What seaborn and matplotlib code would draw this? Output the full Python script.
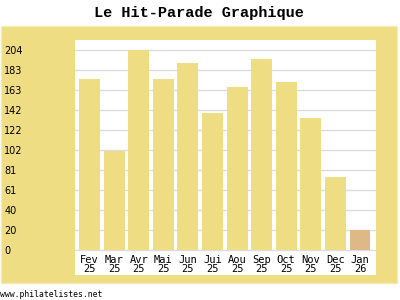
import matplotlib
matplotlib.use("Agg")
import matplotlib.pyplot as plt
import seaborn as sns
import pandas as pd
import numpy as np
from matplotlib.patches import Rectangle

# ---- data ----
months = ["Fev", "Mar", "Avr", "Mai", "Jun", "Jui", "Aou", "Sep", "Oct", "Nov", "Dec", "Jan"]
years = ["25", "25", "25", "25", "25", "25", "25", "25", "25", "25", "25", "26"]
values = [174, 101, 204, 174, 191, 140, 166, 195, 171, 135, 74, 20]
ytick_values = [0, 20.4, 40.8, 61.2, 81.6, 102, 122.4, 142.8, 163.2, 183.6, 204]
ytick_labels = ["0", "20", "40", "61", "81", "102", "122", "142", "163", "183", "204"]
title = "Le Hit-Parade Graphique"
footer = "www.philatelistes.net"

bar_color = "#EEDD82"
last_color = "#DEB887"
panel_color = "#EEDD82"

sns.set_style("white")
plt.rcParams["font.family"] = ["DejaVu Sans"]
plt.rcParams["text.color"] = "black"

labels = [f"{m}\n{y}" for m, y in zip(months, years)]
df = pd.DataFrame({"label": labels, "value": values})
colors = [bar_color] * (len(values) - 1) + [last_color]

fig = plt.figure(figsize=(4, 3), dpi=100)
fig.patch.set_facecolor("white")

# yellow panel behind the plot
W, H = 400.0, 300.0
panel = Rectangle((1 / W, 1 - 283 / H), 396 / W, 257 / H, transform=fig.transFigure,
                  facecolor=panel_color, edgecolor="#F5ECB5", linewidth=1, zorder=0)
fig.patches.append(panel)

ax = fig.add_axes([75 / W, 1 - 275 / H, 301 / W, 235 / H])
ax.set_facecolor("white")
ax.set_zorder(1)

sns.barplot(data=df, x="label", y="value", hue="label", palette=colors,
            legend=False, width=0.85, saturation=1, linewidth=0, ax=ax, zorder=3)

ax.set_xlim(-0.59, 11.65)
ax.set_ylim(-25.5, 214.2)
ax.set_yticks(ytick_values)
ax.set_yticklabels(ytick_labels)
ax.set_xticks(range(len(labels)))
ax.set_xticklabels(labels)
for y in ytick_values:
    ax.axhline(y, color="#DDDDDD", lw=1, zorder=1)

ax.set_xlabel("")
ax.set_ylabel("")
for s in ax.spines.values():
    s.set_visible(False)

ax.tick_params(axis="y", length=0, pad=51, labelsize=7, labelcolor="black")
for lbl in ax.get_yticklabels():
    lbl.set_horizontalalignment("left")
ax.tick_params(axis="x", length=0, pad=-14.5, labelsize=7.5, labelcolor="black")
for lbl in ax.get_xticklabels():
    lbl.set_fontfamily("DejaVu Sans Mono")
    lbl.set_linespacing(0.85)

fig.text(198.5 / W, 1 - 13 / H, title, ha="center", va="center", color="black",
         fontsize=11, fontweight="bold", family="Liberation Mono")
fig.text(0 / W, 1 - 294.5 / H, footer, ha="left", va="center", color="black",
         fontsize=5.9, family="DejaVu Sans Mono")

fig.savefig("out.png", dpi=100, facecolor="white")
